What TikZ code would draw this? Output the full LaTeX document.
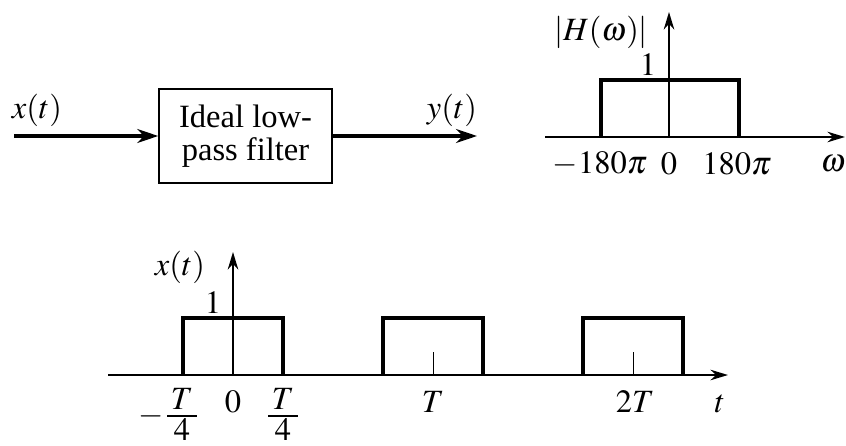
\documentclass[tikz,border=0pt]{standalone}
\usepackage{mathptmx}
\usepackage{fontspec}
\setmainfont{Liberation Serif}
\usetikzlibrary{arrows.meta,positioning}

\begin{document}
\begin{tikzpicture}[x=0.02cm, y=-0.02cm, line join=miter,
		font=\fontsize{18.5}{19}\selectfont,
		sig/.style={-{Stealth[length=12pt, width=8pt]}, line width=1.8pt},
		axis/.style={-{Stealth[length=10pt, width=6pt]}, line width=1.1pt},
		pulse/.style={line width=2.3pt},
		tickmark/.style={line width=0.5pt},
		fracbar/.style={line width=0.6pt},
		lbl/.style={inner sep=0pt},
		filterbox/.style={draw, line width=0.9pt, minimum width=3.46cm, minimum height=1.88cm, align=center, inner sep=0pt}]
	
	% Picture frame
	\useasboundingbox (0,0) rectangle (846,446);
	
	% Block diagram
	\node[filterbox] (filter) at (245.5,136) {Ideal low-\\pass filter};
	\coordinate (xin) at (14,136);
	\coordinate (yout) at (477,136);
	\draw[sig] (xin) -- (filter);
	\draw[sig] (filter) -- (yout);
	\node[lbl] (xlabel) at (37,110) {$x(t)$};
	\node[lbl] (ylabel) at (452,110) {$y(t)$};
	
	% Frequency response |H(w)|
	\coordinate (worig) at (669,137);
	\draw[axis] (545,137) -- (845,137) coordinate (wend);
	\draw[axis] (worig) -- (669,12) coordinate (Htop);
	\draw[pulse] (601,137) -- (601,80) -- (739,80) -- (739,137);
	\node[lbl] (Hlabel) at (601,32) {$|H(\omega)|$};
	\node[lbl] (Hone) at (648,65) {$1$};
	\node[lbl] (wneg) at (600,164) {$-180\pi$};
	\node[lbl] (wzero) at (669,164) {$0$};
	\node[lbl] (wpos) at (737,164) {$180\pi$};
	\node[lbl] (wlabel) at (833,164) {$\omega$};
	
	% Periodic pulse train x(t), period T = 200
	\coordinate (torig) at (233,375);
	\draw[axis] (108,375) -- (728,375) coordinate (tend);
	\draw[axis] (torig) -- (233,252) coordinate (xtop);
	\foreach \c in {233,433,633}
		\draw[pulse] (\c-50,375) -- (\c-50,318) -- (\c+50,318) -- (\c+50,375);
	\foreach \c in {433,633}
		\draw[tickmark] (\c,375) -- (\c,352);
	\node[lbl] (xtlabel) at (180,267) {$x(t)$};
	\node[lbl] (xone) at (213,303) {$1$};
	
	% fractions -T/4 and T/4
	\foreach \n/\c in {tneg/182, tpos/283} {
		\node[lbl] (\n num) at (\c,399) {$T$};
		\node[lbl] (\n den) at (\c,430) {$4$};
		\draw[fracbar] (\c-15,416) -- (\c+15,416);
	}
	\node[lbl] (tminus) at (151,416) {$-$};
	\node[lbl] (tzero) at (233,402) {$0$};
	\node[lbl] (tT) at (433,402) {$T$};
	\node[lbl] (ttwoT) at (635,402) {$2T$};
	\node[lbl] (tlabel) at (720,404) {$t$};
	
\end{tikzpicture}
\end{document}
